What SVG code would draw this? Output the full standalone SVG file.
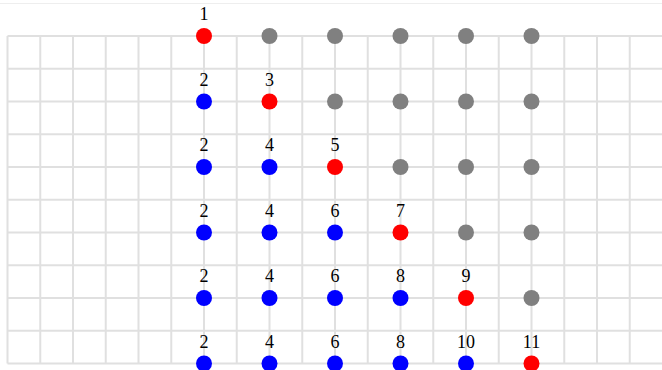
<svg xmlns="http://www.w3.org/2000/svg" width="662" height="370" viewBox="0 0 662 370">
<style>
.grid line{stroke:#e0e0e0;stroke-width:2}
.lbl{font-family:"Liberation Serif","Times New Roman",serif;font-size:18px;fill:#000;text-anchor:middle}
.r{fill:#ff0000}.b{fill:#0000ff}.g{fill:#808080}
</style>
<rect width="662" height="370" fill="#fff"/>
<line x1="0" y1="3.5" x2="662" y2="3.5" stroke="#eeeeee" stroke-width="1"/>
<g id="grid" class="grid">
<line x1="7.5" y1="36" x2="662" y2="36"/>
<line x1="7.5" y1="68.75" x2="662" y2="68.75"/>
<line x1="7.5" y1="101.5" x2="662" y2="101.5"/>
<line x1="7.5" y1="134.25" x2="662" y2="134.25"/>
<line x1="7.5" y1="167" x2="662" y2="167"/>
<line x1="7.5" y1="199.75" x2="662" y2="199.75"/>
<line x1="7.5" y1="232.5" x2="662" y2="232.5"/>
<line x1="7.5" y1="265.25" x2="662" y2="265.25"/>
<line x1="7.5" y1="298" x2="662" y2="298"/>
<line x1="7.5" y1="330.75" x2="662" y2="330.75"/>
<line x1="7.5" y1="363.5" x2="662" y2="363.5"/>
<line x1="7.5" y1="36" x2="7.5" y2="363.5"/>
<line x1="40.25" y1="36" x2="40.25" y2="363.5"/>
<line x1="73" y1="36" x2="73" y2="363.5"/>
<line x1="105.75" y1="36" x2="105.75" y2="363.5"/>
<line x1="138.5" y1="36" x2="138.5" y2="363.5"/>
<line x1="171.25" y1="36" x2="171.25" y2="363.5"/>
<line x1="204" y1="36" x2="204" y2="363.5"/>
<line x1="236.75" y1="36" x2="236.75" y2="363.5"/>
<line x1="269.5" y1="36" x2="269.5" y2="363.5"/>
<line x1="302.25" y1="36" x2="302.25" y2="363.5"/>
<line x1="335" y1="36" x2="335" y2="363.5"/>
<line x1="367.75" y1="36" x2="367.75" y2="363.5"/>
<line x1="400.5" y1="36" x2="400.5" y2="363.5"/>
<line x1="433.25" y1="36" x2="433.25" y2="363.5"/>
<line x1="466" y1="36" x2="466" y2="363.5"/>
<line x1="498.75" y1="36" x2="498.75" y2="363.5"/>
<line x1="531.5" y1="36" x2="531.5" y2="363.5"/>
<line x1="564.25" y1="36" x2="564.25" y2="363.5"/>
<line x1="597" y1="36" x2="597" y2="363.5"/>
<line x1="629.75" y1="36" x2="629.75" y2="363.5"/>
</g>
<g id="row1">
<circle class="r" cx="204" cy="36" r="8"/><text class="lbl" x="204" y="20">1</text>
<circle class="g" cx="269.5" cy="36" r="8"/>
<circle class="g" cx="335" cy="36" r="8"/>
<circle class="g" cx="400.5" cy="36" r="8"/>
<circle class="g" cx="466" cy="36" r="8"/>
<circle class="g" cx="531.5" cy="36" r="8"/>
</g>
<g id="row2">
<circle class="b" cx="204" cy="101.5" r="8"/><text class="lbl" x="204" y="85.5">2</text>
<circle class="r" cx="269.5" cy="101.5" r="8"/><text class="lbl" x="269.5" y="85.5">3</text>
<circle class="g" cx="335" cy="101.5" r="8"/>
<circle class="g" cx="400.5" cy="101.5" r="8"/>
<circle class="g" cx="466" cy="101.5" r="8"/>
<circle class="g" cx="531.5" cy="101.5" r="8"/>
</g>
<g id="row3">
<circle class="b" cx="204" cy="167" r="8"/><text class="lbl" x="204" y="151">2</text>
<circle class="b" cx="269.5" cy="167" r="8"/><text class="lbl" x="269.5" y="151">4</text>
<circle class="r" cx="335" cy="167" r="8"/><text class="lbl" x="335" y="151">5</text>
<circle class="g" cx="400.5" cy="167" r="8"/>
<circle class="g" cx="466" cy="167" r="8"/>
<circle class="g" cx="531.5" cy="167" r="8"/>
</g>
<g id="row4">
<circle class="b" cx="204" cy="232.5" r="8"/><text class="lbl" x="204" y="216.5">2</text>
<circle class="b" cx="269.5" cy="232.5" r="8"/><text class="lbl" x="269.5" y="216.5">4</text>
<circle class="b" cx="335" cy="232.5" r="8"/><text class="lbl" x="335" y="216.5">6</text>
<circle class="r" cx="400.5" cy="232.5" r="8"/><text class="lbl" x="400.5" y="216.5">7</text>
<circle class="g" cx="466" cy="232.5" r="8"/>
<circle class="g" cx="531.5" cy="232.5" r="8"/>
</g>
<g id="row5">
<circle class="b" cx="204" cy="298" r="8"/><text class="lbl" x="204" y="282">2</text>
<circle class="b" cx="269.5" cy="298" r="8"/><text class="lbl" x="269.5" y="282">4</text>
<circle class="b" cx="335" cy="298" r="8"/><text class="lbl" x="335" y="282">6</text>
<circle class="b" cx="400.5" cy="298" r="8"/><text class="lbl" x="400.5" y="282">8</text>
<circle class="r" cx="466" cy="298" r="8"/><text class="lbl" x="466" y="282">9</text>
<circle class="g" cx="531.5" cy="298" r="8"/>
</g>
<g id="row6">
<circle class="b" cx="204" cy="363.5" r="8"/><text class="lbl" x="204" y="347.5">2</text>
<circle class="b" cx="269.5" cy="363.5" r="8"/><text class="lbl" x="269.5" y="347.5">4</text>
<circle class="b" cx="335" cy="363.5" r="8"/><text class="lbl" x="335" y="347.5">6</text>
<circle class="b" cx="400.5" cy="363.5" r="8"/><text class="lbl" x="400.5" y="347.5">8</text>
<circle class="b" cx="466" cy="363.5" r="8"/><text class="lbl" x="466" y="347.5">10</text>
<circle class="r" cx="531.5" cy="363.5" r="8"/><text class="lbl" x="531.5" y="347.5">11</text>
</g>
</svg>
